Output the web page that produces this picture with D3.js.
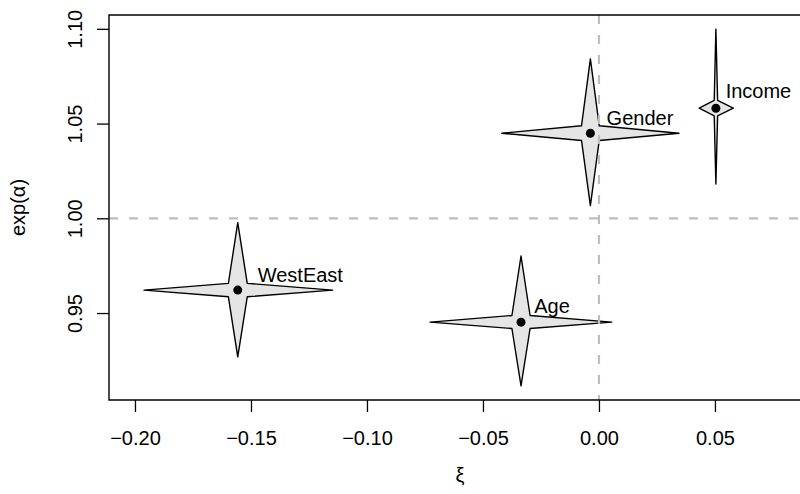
<!DOCTYPE html>
<html>
<head>
<meta charset="utf-8">
<script src="https://cdn.jsdelivr.net/npm/d3@7"></script>
<style>
  html, body { margin: 0; padding: 0; background: #fff; }
  svg text { font-family: "Liberation Sans", Arial, Helvetica, sans-serif; fill: #000; }
</style>
</head>
<body>
<svg id="chart" width="800" height="494"></svg>
<script>
// ---- data ----
const variables   = ["WestEast", "Age", "Gender", "Income"];
const xi          = [-0.1557, -0.0336, -0.0037, 0.0504];
const xiLower     = [-0.1961, -0.0728, -0.0419, 0.0432];
const xiUpper     = [-0.1148,  0.0055,  0.0345, 0.0579];
const expAlpha      = [0.9621, 0.9452, 1.0449, 1.0581];
const expAlphaLower = [0.9269, 0.9116, 1.0067, 1.0181];
const expAlphaUpper = [0.9977, 0.9801, 1.0841, 1.0998];
const labelXi       = [-0.1471, -0.0279, 0.0033, 0.0546];
const labelExpAlpha = [0.9665, 0.9502, 1.0493, 1.0634];
const xTicks = [-0.20, -0.15, -0.10, -0.05, 0.00, 0.05];
const yTicks = [0.95, 1.00, 1.05, 1.10];

// ---- layout ----
const svg = d3.select("#chart");
const L = 109, R = 811, T = 15, B = 400;
const x = d3.scaleLinear().domain([-0.2112, 0.0914]).range([L, R]);
const y = d3.scaleLinear().domain([0.9041, 1.1073]).range([B, T]);
const fmt = d => d3.format(".2f")(d).replace("-", "\u2212");

// axes
const xAxis = svg.append("g").attr("transform", `translate(0,${B})`)
  .call(d3.axisBottom(x).tickValues(xTicks).tickSize(12).tickSizeOuter(0).tickFormat(fmt));
xAxis.select(".domain").remove();
xAxis.selectAll("line").attr("stroke", "#000").attr("stroke-width", 1.3);
xAxis.selectAll("text").attr("font-size", 20).attr("y", 45).attr("dy", 0)
  .attr("font-family", "Liberation Sans, Arial, sans-serif");

const yAxis = svg.append("g").attr("transform", `translate(${L},0)`)
  .call(d3.axisLeft(y).tickValues(yTicks).tickSize(12).tickSizeOuter(0).tickFormat(fmt));
yAxis.select(".domain").remove();
yAxis.selectAll("line").attr("stroke", "#000").attr("stroke-width", 1.3);
yAxis.selectAll("text").attr("font-size", 20)
  .attr("x", null).attr("dy", 0)
  .attr("text-anchor", "middle")
  .attr("transform", `translate(${81.7 - L},0) rotate(-90)`)
  .attr("font-family", "Liberation Sans, Arial, sans-serif");

// stars
const starPts = i => {
  const cx = x(xi[i]), cy = y(expAlpha[i]);
  const xl = x(xiLower[i]), xr = x(xiUpper[i]);
  const yt = y(expAlphaUpper[i]), yb = y(expAlphaLower[i]);
  const f = 0.1;
  const ir = cx + f * (xr - cx), il = cx - f * (cx - xl);
  const it = cy - f * (cy - yt), ib = cy + f * (yb - cy);
  return [[cx, yt], [ir, it], [xr, cy], [ir, ib], [cx, yb], [il, ib], [xl, cy], [il, it]];
};
const idx = d3.range(variables.length);
svg.append("g").selectAll("path").data(idx).join("path")
  .attr("d", i => d3.line()(starPts(i)) + "Z")
  .attr("fill", "#e5e5e5").attr("stroke", "#000").attr("stroke-width", 1.4)
  .attr("stroke-linejoin", "round");

svg.append("g").selectAll("circle").data(idx).join("circle")
  .attr("cx", i => x(xi[i])).attr("cy", i => y(expAlpha[i])).attr("r", 4.5)
  .attr("fill", "#000");

svg.append("g").selectAll("text").data(idx).join("text")
  .attr("x", i => x(labelXi[i])).attr("y", i => y(labelExpAlpha[i]))
  .attr("font-size", 20).text(i => variables[i]);

// reference lines
const ref = svg.append("g").attr("stroke", "#bebebe").attr("stroke-width", 2.2)
  .attr("stroke-dasharray", "9,11");
ref.append("line").attr("x1", L).attr("x2", R).attr("y1", y(1)).attr("y2", y(1));
ref.append("line").attr("x1", x(0)).attr("x2", x(0)).attr("y1", T).attr("y2", B);

// box (right edge lies outside the 800px window)
svg.append("path")
  .attr("d", `M${R + 20},${T}H${L}V${B}H${R + 20}`)
  .attr("fill", "none").attr("stroke", "#000").attr("stroke-width", 1.4);

// axis titles
svg.append("text").attr("x", (L + R) / 2).attr("y", 482).attr("text-anchor", "middle")
  .attr("font-size", 20).text("\u03BE");
svg.append("text").attr("transform", `translate(25,${(T + B) / 2}) rotate(-90)`)
  .attr("text-anchor", "middle").attr("font-size", 20).text("exp(\u03B1)");
</script>
</body>
</html>
